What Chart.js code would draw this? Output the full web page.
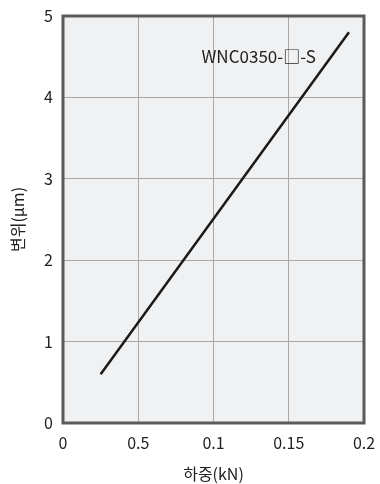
<!DOCTYPE html>
<html>
<head>
<meta charset="utf-8">
<script src="https://cdn.jsdelivr.net/npm/chart.js@4"></script>
<style>
  html, body { margin: 0; padding: 0; background: #fff; }
  #wrap { width: 380px; height: 484px; }
</style>
</head>
<body>
<div id="wrap"><canvas id="chart" width="380" height="484"></canvas></div>
<script>
const loadKN = [0.025, 0.19];
const dispUm = [0.6, 4.8];
const xTickLabels = ["0", "0.5", "0.1", "0.15", "0.2"];
const seriesLabel = "WNC0350-□-S";

const fontFam = "'Noto Sans CJK KR', 'Noto Sans', sans-serif";

const framePlugin = {
  id: "frame",
  beforeDraw(chart) {
    const { ctx, chartArea: a } = chart;
    ctx.save();
    ctx.fillStyle = "#f0f1f3";
    ctx.fillRect(a.left, a.top, a.right - a.left, a.bottom - a.top);
    ctx.restore();
  },
  afterDraw(chart) {
    const { ctx, chartArea: a, scales } = chart;
    ctx.save();
    ctx.strokeStyle = "#5a5a5a";
    ctx.lineWidth = 3;
    ctx.strokeRect(a.left, a.top, a.right - a.left, a.bottom - a.top);
    ctx.fillStyle = "#222";
    ctx.font = "17px " + fontFam;
    ctx.textAlign = "center";
    ctx.textBaseline = "middle";
    ctx.fillText(seriesLabel, scales.x.getPixelForValue(0.13), scales.y.getPixelForValue(4.5));
    ctx.restore();
  }
};

new Chart(document.getElementById("chart"), {
  type: "line",
  data: {
    datasets: [{
      data: loadKN.map((x, i) => ({ x: x, y: dispUm[i] })),
      borderColor: "#1a1a1a",
      borderWidth: 2.5,
      pointRadius: 0,
      fill: false
    }]
  },
  options: {
    responsive: false,
    animation: false,
    layout: { padding: { left: 0, top: 16, right: 16, bottom: 0 } },
    plugins: { legend: { display: false }, tooltip: { enabled: false } },
    scales: {
      x: {
        type: "linear",
        min: 0, max: 0.2,
        border: { display: false },
        grid: { color: "#a8a8a8", lineWidth: 1, drawTicks: false },
        ticks: {
          stepSize: 0.05,
          padding: 10,
          color: "#222",
          font: { size: 16, family: fontFam },
          callback: (v, i) => xTickLabels[i]
        },
        title: {
          display: true,
          text: "하중(kN)",
          color: "#222",
          font: { size: 16, family: fontFam },
          padding: { top: 2, bottom: 0 }
        },
        afterFit: s => { s.height = 61; s.paddingRight = 0; s.paddingLeft = 0; }
      },
      y: {
        min: 0, max: 5,
        border: { display: false },
        grid: { color: "#a8a8a8", lineWidth: 1, drawTicks: false },
        ticks: {
          stepSize: 1,
          padding: 10,
          color: "#222",
          font: { size: 16, family: fontFam }
        },
        title: {
          display: true,
          text: "변위(μm)",
          color: "#222",
          font: { size: 16, family: fontFam },
          padding: { top: 8, bottom: 6 }
        },
        afterFit: s => { s.width = 63; s.paddingTop = 0; s.paddingBottom = 0; }
      }
    }
  },
  plugins: [framePlugin]
});
</script>
</body>
</html>
